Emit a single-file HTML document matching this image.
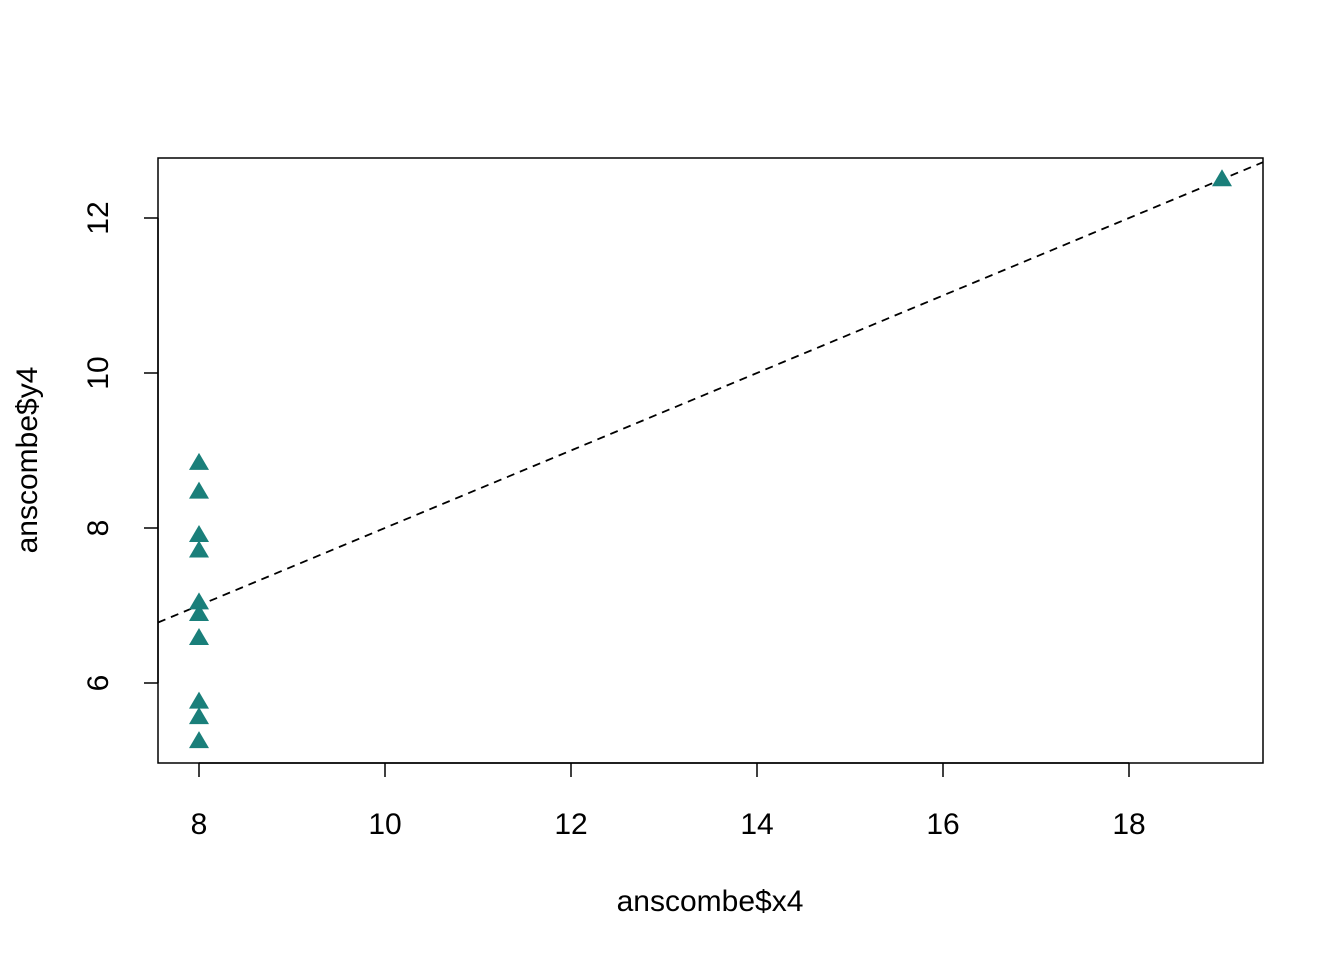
<!DOCTYPE html>
<html><head><meta charset="utf-8"><style>
body{margin:0;background:#fff;}
svg text{font-family:"Liberation Sans",Arial,sans-serif;fill:#000;}
</style></head><body>
<svg id="chart" width="1344" height="960" viewBox="0 0 1344 960" xmlns="http://www.w3.org/2000/svg">
<rect x="158" y="158" width="1105" height="605" fill="none" stroke="#000" stroke-width="1.5"/>
<g id="xaxis"></g>
<g id="yaxis"></g>
<g id="fit"></g>
<g id="pts"></g>
<text x="710" y="911" font-size="30" text-anchor="middle">anscombe$x4</text>
<text transform="translate(37,460) rotate(-90)" font-size="30" text-anchor="middle">anscombe$y4</text>
</svg>
<script>
const xValues=[8,8,8,8,8,8,8,19,8,8,8];
const yValues=[6.58,5.76,7.71,8.84,8.47,7.04,5.25,12.50,5.56,7.91,6.89];
const xTicks=[8,10,12,14,16,18];
const yTicks=[6,8,10,12];
const fitCoef=[3.0017,0.4999];
const NS="http://www.w3.org/2000/svg";
const L=158,R=1263,T=158,B=763;
function sx(v){return 199+(v-8)*93;}
function sy(v){return 683-(v-6)*77.5;}
function mk(t,a,p){const e=document.createElementNS(NS,t);for(const k in a)e.setAttribute(k,a[k]);p.appendChild(e);return e;}
const xa=document.getElementById('xaxis'),ya=document.getElementById('yaxis');
mk('line',{x1:sx(xTicks[0]),x2:sx(xTicks[xTicks.length-1]),y1:B,y2:B,stroke:'#000','stroke-width':1.5},xa);
xTicks.forEach(v=>{
 const l=mk('line',{x1:sx(v),x2:sx(v),y1:B,y2:B+14,stroke:'#000','stroke-width':1.5},xa);
 
 
 const t=mk('text',{x:sx(v),y:834,'font-size':30,'text-anchor':'middle'},xa);t.textContent=v;
 
 
});
mk('line',{x1:L,x2:L,y1:sy(yTicks[0]),y2:sy(yTicks[yTicks.length-1]),stroke:'#000','stroke-width':1.5},ya);
yTicks.forEach(v=>{
 const l=mk('line',{x1:L-14,x2:L,y1:sy(v),y2:sy(v),stroke:'#000','stroke-width':1.5},ya);
 
 
 const t=mk('text',{transform:`translate(108,${sy(v)}) rotate(-90)`,'font-size':30,'text-anchor':'middle'},ya);t.textContent=v;
 
 
});
const x0=(L-199)/93+8,x1=(R-199)/93+8;
const fl=mk('line',{x1:L,x2:R,y1:sy(fitCoef[0]+fitCoef[1]*x0),y2:sy(fitCoef[0]+fitCoef[1]*x1),stroke:'#000','stroke-width':1.8,'stroke-dasharray':'8,6'},document.getElementById('fit'));


const pg=document.getElementById('pts');
xValues.forEach((x,i)=>{
 const cx=sx(x),cy=sy(yValues[i]);
 const p=mk('polygon',{points:`${cx},${cy-10} ${cx+10},${cy+7} ${cx-10},${cy+7}`,fill:'#1a7f7a'},pg);
 
 
});
</script>
</body></html>
